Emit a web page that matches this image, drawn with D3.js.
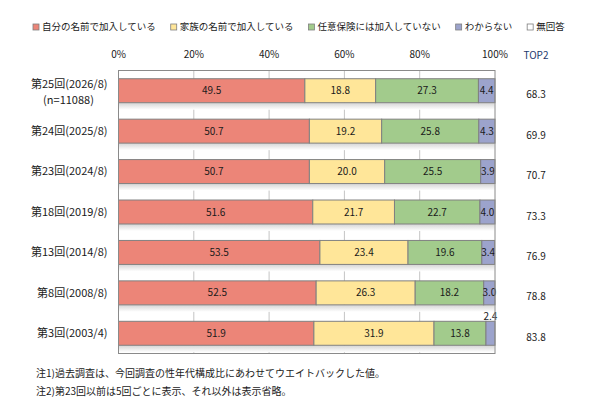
<!DOCTYPE html>
<html>
<head>
<meta charset="utf-8">
<script src="https://cdn.jsdelivr.net/npm/d3@7"></script>
<style>
  body { margin: 0; background: #fff; }
  text { font-family: "Noto Sans CJK JP", "Noto Sans", sans-serif; fill: #1a1a1a; }
</style>
</head>
<body>
<div id="chart"></div>
<script>
// data
const rounds = ["第25回(2026/8)", "第24回(2025/8)", "第23回(2024/8)", "第18回(2019/8)", "第13回(2014/8)", "第8回(2008/8)", "第3回(2003/4)"];
const subLabels = ["(n=11088)", "", "", "", "", "", ""];
const seriesNames = ["自分の名前で加入している", "家族の名前で加入している", "任意保険には加入していない", "わからない", "無回答"];
const ownName = [49.5, 50.7, 50.7, 51.6, 53.5, 52.5, 51.9];
const familyName = [18.8, 19.2, 20.0, 21.7, 23.4, 26.3, 31.9];
const notInsured = [27.3, 25.8, 25.5, 22.7, 19.6, 18.2, 13.8];
const dontKnow = [4.4, 4.3, 3.9, 4.0, 3.4, 3.0, 2.4];
const noAnswer = [0, 0, 0, 0, 0, 0, 0];
const top2 = ["68.3", "69.9", "70.7", "73.3", "76.9", "78.8", "83.8"];
const xTicks = [0, 20, 40, 60, 80, 100];
const notes = [
  "注1)過去調査は、今回調査の性年代構成比にあわせてウエイトバックした値。",
  "注2)第23回以前は5回ごとに表示、それ以外は表示省略。"
];

const colors = ["#ec8578", "#ffe699", "#a2cb8c", "#9ca3cc", "#ffffff"];

const W = 590, H = 406;
const margin = {top: 70.5, right: 95, bottom: 52.5, left: 118.5};
const iw = W - margin.left - margin.right,
      ih = H - margin.top - margin.bottom;

const svg = d3.select("#chart").append("svg")
  .attr("width", W).attr("height", H);

// shadow gradient under bars
const defs = svg.append("defs");
const grad = defs.append("linearGradient").attr("id", "shadow")
  .attr("x1", 0).attr("y1", 0).attr("x2", 0).attr("y2", 1);
grad.append("stop").attr("offset", "0%").attr("stop-color", "#d4d4d4");
grad.append("stop").attr("offset", "100%").attr("stop-color", "#ffffff");

// legend
const legend = svg.append("g").attr("transform", "translate(33,27)");
let lx = 0;
seriesNames.forEach((name, i) => {
  const g = legend.append("g").attr("transform", "translate(" + lx + ",0)");
  g.append("rect").attr("x", 0).attr("y", -3).attr("width", 6).attr("height", 6)
    .attr("fill", colors[i]).attr("stroke", "#7f7f7f").attr("stroke-width", 0.8);
  const t = g.append("text").attr("x", 9).attr("dy", "0.35em")
    .style("font-size", "9.5px").text(name);
  lx += 9 + t.node().getComputedTextLength() + 15;
});

const g = svg.append("g")
  .attr("transform", "translate(" + margin.left + "," + margin.top + ")");

const x = d3.scaleLinear().domain([0, 100]).range([0, iw]);
const y = d3.scaleBand().domain(rounds).range([0, ih])
  .paddingInner(0.407).paddingOuter(0.2035);

// top axis labels
g.append("g")
  .selectAll("text")
  .data(xTicks)
  .join("text")
    .attr("x", d => x(d))
    .attr("y", -16)
    .attr("dy", "0.35em")
    .attr("text-anchor", "middle")
    .style("font-size", "10px")
    .text(d => d + "%");

// grid lines
g.append("g")
  .selectAll("line")
  .data(xTicks.slice(1, -1))
  .join("line")
    .attr("x1", d => x(d)).attr("x2", d => x(d))
    .attr("y1", 0).attr("y2", ih)
    .attr("stroke", "#c4c4c4").attr("stroke-width", 1);

// shadows under bars
g.append("g")
  .selectAll("rect")
  .data(rounds)
  .join("rect")
    .attr("x", 0.5)
    .attr("y", d => y(d) + y.bandwidth())
    .attr("width", iw - 1)
    .attr("height", 7)
    .attr("fill", "url(#shadow)");

// stacked bars
const table = rounds.map((r, i) => ({
  round: r,
  own: ownName[i], family: familyName[i], not: notInsured[i], dk: dontKnow[i], na: noAnswer[i]
}));
const keys = ["own", "family", "not", "dk", "na"];
const stacked = d3.stack().keys(keys)(table);

const layers = g.append("g").selectAll("g")
  .data(stacked)
  .join("g")
    .attr("fill", (d, i) => colors[i]);

layers.selectAll("rect")
  .data(d => d.filter(s => s[1] - s[0] > 0))
  .join("rect")
    .attr("x", d => x(d[0]))
    .attr("y", d => y(d.data.round))
    .attr("width", d => Math.min(x(d[1]), iw) - x(d[0]))
    .attr("height", y.bandwidth())
    .attr("stroke", "#808080")
    .attr("stroke-width", 1);

// value labels
stacked.forEach((layer, li) => {
  if (keys[li] === "na") return;
  g.append("g").selectAll("text")
    .data(layer)
    .join("text")
      .attr("x", d => x((d[0] + Math.min(d[1], 100)) / 2))
      .attr("y", d => (d[1] - d[0]) < 3
        ? y(d.data.round) - 5
        : y(d.data.round) + y.bandwidth() / 2)
      .attr("dy", "0.35em")
      .attr("text-anchor", "middle")
      .style("font-size", "10px")
      .text(d => (d[1] - d[0]).toFixed(1));
});

// frame
g.append("rect")
  .attr("x", 0).attr("y", 0).attr("width", iw).attr("height", ih)
  .attr("fill", "none").attr("stroke", "#8a8a8a").attr("stroke-width", 1);

// category labels
g.append("g").selectAll("text")
  .data(rounds)
  .join("text")
    .attr("x", -11)
    .attr("y", (d, i) => y(d) + y.bandwidth() / 2 + (subLabels[i] ? -7 : 0))
    .attr("dy", "0.35em")
    .attr("text-anchor", "end")
    .style("font-size", "11px")
    .text(d => d);

g.append("g").selectAll("text")
  .data(rounds.filter((d, i) => subLabels[i]))
  .join("text")
    .attr("x", -50)
    .attr("y", d => y(d) + y.bandwidth() / 2 + 9)
    .attr("dy", "0.35em")
    .attr("text-anchor", "middle")
    .style("font-size", "11px")
    .text(d => subLabels[rounds.indexOf(d)]);

// TOP2 column
const tx = iw + 41;
g.append("text")
  .attr("x", tx).attr("y", -15).attr("dy", "0.35em")
  .attr("text-anchor", "middle")
  .style("font-size", "10px")
  .style("fill", "#1f3a6e")
  .text("TOP2");

g.append("g").selectAll("text")
  .data(rounds)
  .join("text")
    .attr("x", tx)
    .attr("y", (d, i) => y(d) + y.bandwidth() / 2 + 4)
    .attr("dy", "0.35em")
    .attr("text-anchor", "middle")
    .style("font-size", "10px")
    .text((d, i) => top2[i]);

// notes
svg.append("g").selectAll("text")
  .data(notes)
  .join("text")
    .attr("x", 36)
    .attr("y", (d, i) => 373 + i * 18)
    .attr("dy", "0.35em")
    .style("font-size", "10px")
    .text(d => d);
</script>
</body>
</html>
